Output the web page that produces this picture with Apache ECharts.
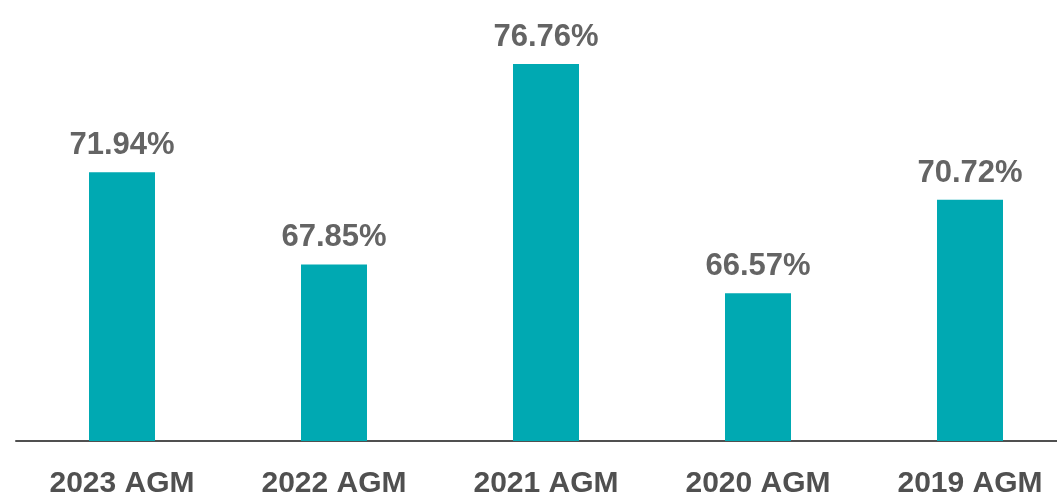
<!DOCTYPE html>
<html><head><meta charset="utf-8">
<script src="https://cdn.jsdelivr.net/npm/echarts@6/dist/echarts.min.js"></script>
<style>html,body{margin:0;padding:0;background:#fff;overflow:hidden}#c{width:1076px;height:500px}</style>
</head><body><div id="c"></div>
<script>
const categories = ['2023 AGM', '2022 AGM', '2021 AGM', '2020 AGM', '2019 AGM'];
const values = [71.94, 67.85, 76.76, 66.57, 70.72];

const chart = echarts.init(document.getElementById('c'), null, {renderer: 'canvas'});
chart.setOption({
  animation: false,
  grid: {left: 16, right: 0, top: 0, bottom: 59, containLabel: false},
  xAxis: {
    type: 'category', data: categories,
    axisLine: {show: true, lineStyle: {color: '#505050', width: 2}},
    axisTick: {show: false},
    axisLabel: {color: '#505050', fontFamily: 'Liberation Sans, Arial, sans-serif', fontWeight: 'bold', fontSize: 30, margin: 28}
  },
  yAxis: {type: 'value', min: 60, max: 79.6, show: false, splitLine: {show: false}},
  series: [{
    type: 'bar', data: values, barWidth: 66,
    itemStyle: {color: '#00A9B2'},
    label: {show: true, position: 'top', distance: 11, color: '#646464',
      fontFamily: 'Liberation Sans, Arial, sans-serif', fontWeight: 'bold', fontSize: 31,
      formatter: p => p.value.toFixed(2) + '%'}
  }]
});
</script></body></html>
